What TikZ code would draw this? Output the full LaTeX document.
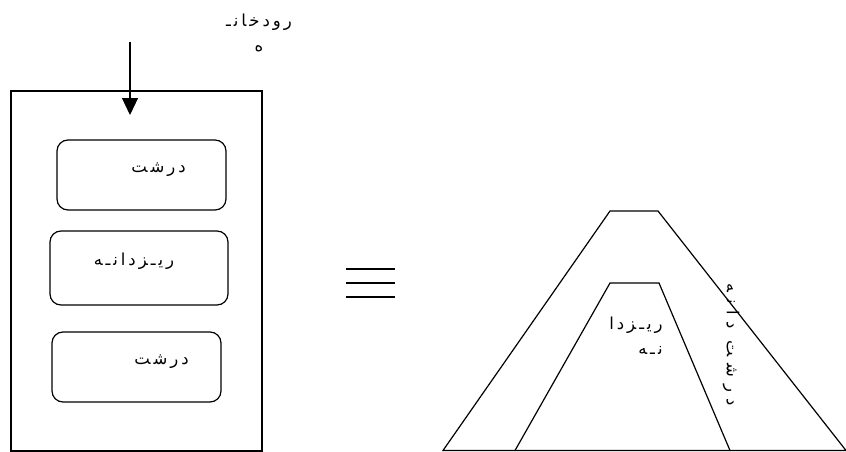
\documentclass[tikz,border=0pt]{standalone}
\usepackage{fontspec}
\newfontfamily\farsi[Script=Arabic, LetterSpace=18]{DejaVu Sans}
\newfontfamily\farsiwide[Script=Arabic, LetterSpace=40]{DejaVu Sans}
\TeXXeTstate=1
\usetikzlibrary{arrows.meta}

\begin{document}
\begin{tikzpicture}[x=1pt, y=-1pt,
  lbl/.style={font=\farsi\fontsize{16.5}{25}\selectfont, inner sep=1pt},
  box/.style={draw, line width=1.2pt, rounded corners=11pt, minimum width=169pt, minimum height=70pt, text height=12pt, text depth=18pt, lbl},
  arr/.style={-{Triangle[length=17pt,width=16pt]}, line width=1.2pt},
  wall/.style={line width=1.2pt, line join=miter}]
\useasboundingbox (0,0) rectangle (846,452);
% left: section of the deposit
\node[draw, line width=1.2pt, minimum width=251pt, minimum height=360pt, inner sep=0pt] (basin) at (136.5,271) {};
\node[box] (top) at (141.5,175) {\hspace*{34pt}\beginR درشت\endR};
\node[box, minimum width=178pt, minimum height=74pt] (mid) at (139,268) {\beginR ریـزدانـه\endR\hspace*{10pt}};
\node[box] (low) at (136.5,367) {\hspace*{50pt}\beginR درشت\endR};
\node[lbl, align=center] (river) at (259,33) {\beginR رودخانـ\endR\\\beginR ه\endR};
\coordinate (inflow) at (130,42);
\coordinate (drop) at (130,115);
\draw[arr] (inflow) -- (drop);
% equivalence
\foreach \y in {269,283,297}
  \draw[line width=1.2pt] (346,\y) -- (395,\y);
% right: cone
\draw[wall] (443,450.5) -- (610,211) -- (658,211) -- (846,450.5) -- cycle;
\draw[wall] (515,450.5) -- (610,283) -- (659,283) -- (730,450.5);
\node[lbl, align=right] (fine) at (636,336) {\beginR ریـزدا\endR\\\beginR نـه\endR};
\node[lbl, font=\farsiwide\fontsize{16.5}{25}\selectfont, rotate=-90] (coarse) at (731,345) {\beginR درشت دانه\endR};
\end{tikzpicture}
\end{document}
